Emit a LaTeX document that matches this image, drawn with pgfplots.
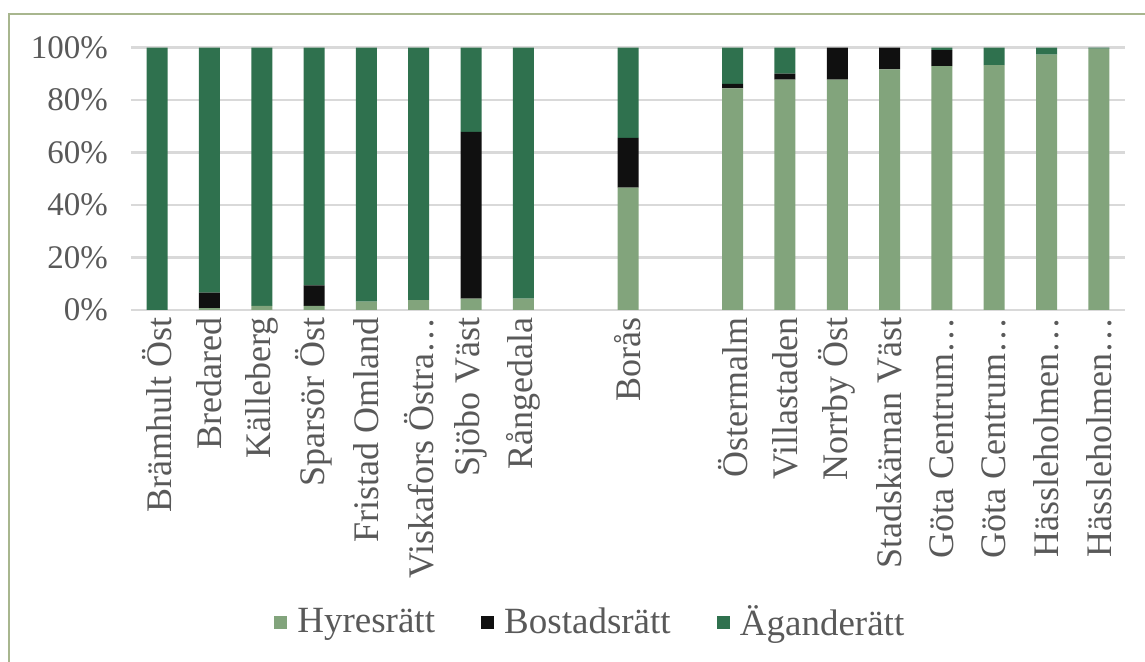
\documentclass[border=0pt]{standalone}
\usepackage{fontspec}
\setmainfont{Liberation Serif}
\usepackage{pgfplots}
\usepackage{pgfplotstable}
\pgfplotsset{compat=1.18}

\definecolor{hyres}{RGB}{130,164,124}
\definecolor{bostad}{RGB}{16,16,16}
\definecolor{agande}{RGB}{47,113,78}
\definecolor{gridc}{RGB}{217,217,217}
\definecolor{txt}{RGB}{89,89,89}
\definecolor{frame}{RGB}{168,182,142}

% share per area, in percent
\pgfplotstableread{
x  hyres bostad agande
0  0     0      100
1  0.7   5.9    93.4
2  1.6   0      98.4
3  1.6   7.8    90.6
4  3.2   0      96.8
5  3.8   0      96.2
6  4.3   63.6   32.1
7  4.3   0      95.7
9  46.6  19.0   34.4
11 84.5  1.7    13.8
12 87.8  2.3    9.9
13 87.8  12.2   0
14 91.7  8.3    0
15 92.9  6.1    1.0
16 93.3  0      6.7
17 97.3  0      2.7
18 99.6  0      0.4
}\shares

\begin{document}
\begin{tikzpicture}
\path[use as bounding box] (-65.5pt,-176pt) rectangle (507pt,155pt);
\draw[frame,line width=0.7pt] (-61pt,-180pt) -- (-61pt,148pt) -- (510pt,148pt);
\begin{axis}[
  scale only axis,
  width=497pt,height=131.2pt,
  ybar stacked,
  bar width=10.5pt,
  xmin=-0.5,xmax=18.5,
  ymin=0,ymax=100,
  xtick={0,1,2,3,4,5,6,7,9,11,12,13,14,15,16,17,18},
  xticklabels={Brämhult Öst,Bredared,Källeberg,Sparsör Öst,Fristad Omland,Viskafors Östra…,Sjöbo Väst,Rångedala,Borås,Östermalm,Villastaden,Norrby Öst,Stadskärnan Väst,Göta Centrum…,Göta Centrum…,Hässleholmen…,Hässleholmen…},
  ytick={0,20,40,60,80,100},
  yticklabels={0\%,20\%,40\%,60\%,80\%,100\%},
  major tick length=0pt,
  axis line style={draw=none},
  ymajorgrids,
  grid style={gridc,line width=1.2pt},
  tick label style={txt},
  yticklabel style={font=\fontsize{16.5}{18}\selectfont,xshift=-8pt},
  xticklabel style={font=\fontsize{18}{20}\selectfont,rotate=90,anchor=east,inner sep=3.5pt},
  legend style={at={(0.463,-1.19)},anchor=center,draw=none,fill=none,
    text=txt,font=\fontsize{18.5}{20}\selectfont,
    /tikz/every odd column/.append style={column sep=3pt},
    /tikz/every even column/.append style={column sep=21pt}},
  legend columns=3,
  legend image code/.code={\fill[#1] (0pt,-3.3pt) rectangle (6.6pt,3.3pt);},
]
\addplot+[fill=hyres,draw=none] table[x=x,y=hyres] {\shares};
\addlegendentry{Hyresrätt}
\addplot+[fill=bostad,draw=none] table[x=x,y=bostad] {\shares};
\addlegendentry{Bostadsrätt}
\addplot+[fill=agande,draw=none] table[x=x,y=agande] {\shares};
\addlegendentry{Äganderätt}
\end{axis}
\end{tikzpicture}
\end{document}
